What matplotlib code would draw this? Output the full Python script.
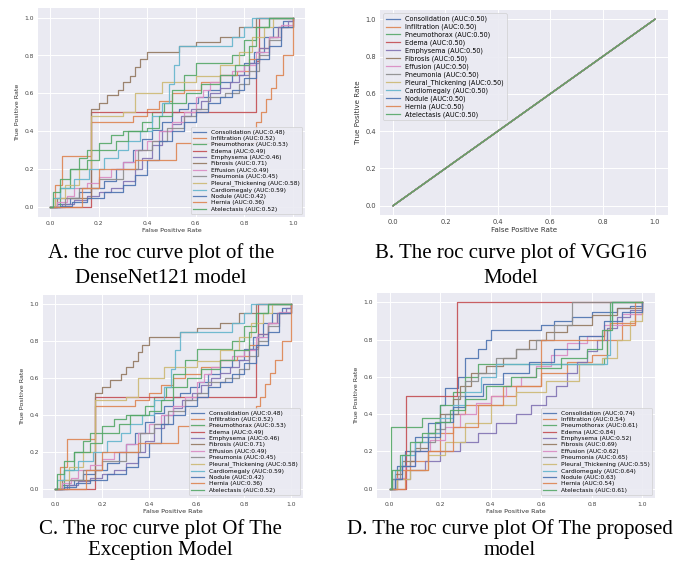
import numpy as np
import matplotlib.pyplot as plt

# class names, in legend order
classes = ['Consolidation', 'Infiltration', 'Pneumothorax', 'Edema', 'Emphysema',
           'Fibrosis', 'Effusion', 'Pneumonia', 'Pleural_Thickening', 'Cardiomegaly',
           'Nodule', 'Hernia', 'Atelectasis']

# AUC values printed in each legend
auc_densenet = [0.48, 0.52, 0.53, 0.49, 0.46, 0.71, 0.49, 0.45, 0.58, 0.59, 0.42, 0.36, 0.52]
auc_vgg16 = [0.50] * 13
auc_exception = [0.48, 0.52, 0.53, 0.49, 0.46, 0.71, 0.49, 0.45, 0.58, 0.59, 0.42, 0.36, 0.52]
auc_proposed = [0.74, 0.54, 0.61, 0.84, 0.52, 0.69, 0.62, 0.65, 0.55, 0.64, 0.63, 0.54, 0.61]

dn_consolidation_fpr = [0, 0.03, 0.08, 0.12, 0.17, 0.22, 0.27, 0.3, 0.34, 0.38, 0.42, 0.46, 0.5, 0.53, 0.57, 0.61, 0.65, 0.7, 0.75, 0.8, 0.84, 0.88, 0.92, 0.96, 1.0]
dn_consolidation_tpr = [0, 0.02, 0.05, 0.08, 0.1, 0.14, 0.2, 0.24, 0.3, 0.36, 0.41, 0.45, 0.5, 0.52, 0.55, 0.58, 0.62, 0.66, 0.7, 0.76, 0.82, 0.9, 0.95, 0.98, 1.0]
dn_infiltration_fpr = [0, 0.02, 0.05, 0.17, 0.34, 0.4, 0.45, 0.5, 0.55, 0.62, 0.7, 0.77, 0.82, 0.86, 0.9, 0.94, 1.0]
dn_infiltration_tpr = [0, 0.12, 0.27, 0.45, 0.48, 0.52, 0.56, 0.6, 0.62, 0.66, 0.7, 0.72, 0.78, 0.84, 0.9, 0.95, 1.0]
dn_pneumothorax_fpr = [0, 0.04, 0.08, 0.12, 0.15, 0.2, 0.25, 0.3, 0.38, 0.42, 0.47, 0.5, 0.55, 0.6, 0.75, 0.8, 0.85, 0.9, 1.0]
dn_pneumothorax_tpr = [0, 0.1, 0.2, 0.26, 0.3, 0.34, 0.38, 0.4, 0.45, 0.5, 0.55, 0.62, 0.7, 0.76, 0.8, 0.88, 0.95, 1.0, 1.0]
dn_edema_fpr = [0, 0.17, 0.85, 0.86, 1.0]
dn_edema_tpr = [0, 0.5, 0.77, 1.0, 1.0]
dn_emphysema_fpr = [0, 0.05, 0.1, 0.15, 0.2, 0.25, 0.3, 0.35, 0.38, 0.42, 0.46, 0.5, 0.54, 0.58, 0.62, 0.66, 0.7, 0.74, 0.78, 0.82, 0.86, 0.9, 0.94, 0.98, 1.0]
dn_emphysema_tpr = [0, 0.02, 0.04, 0.06, 0.08, 0.1, 0.14, 0.2, 0.26, 0.33, 0.4, 0.44, 0.48, 0.52, 0.56, 0.6, 0.63, 0.66, 0.7, 0.76, 0.84, 0.9, 0.95, 0.98, 1.0]
dn_fibrosis_fpr = [0, 0.03, 0.17, 0.2, 0.235, 0.28, 0.3, 0.33, 0.35, 0.37, 0.4, 0.53, 0.6, 0.7, 0.78, 0.85, 1.0]
dn_fibrosis_tpr = [0, 0.05, 0.52, 0.55, 0.59, 0.62, 0.66, 0.69, 0.74, 0.78, 0.82, 0.85, 0.87, 0.9, 0.95, 1.0, 1.0]
dn_effusion_fpr = [0, 0.03, 0.07, 0.1, 0.15, 0.2, 0.25, 0.3, 0.35, 0.4, 0.45, 0.5, 0.55, 0.6, 0.63, 0.66, 0.7, 0.75, 0.8, 0.85, 0.9, 0.95, 1.0]
dn_effusion_tpr = [0, 0.03, 0.06, 0.1, 0.13, 0.16, 0.2, 0.24, 0.3, 0.35, 0.4, 0.45, 0.5, 0.58, 0.62, 0.66, 0.7, 0.72, 0.75, 0.82, 0.9, 0.96, 1.0]
dn_pneumonia_fpr = [0, 0.06, 0.12, 0.2, 0.3, 0.36, 0.42, 0.48, 0.55, 0.6, 0.65, 0.72, 0.78, 0.82, 0.86, 0.9, 0.95, 1.0]
dn_pneumonia_tpr = [0, 0.05, 0.1, 0.15, 0.2, 0.3, 0.35, 0.42, 0.48, 0.52, 0.58, 0.6, 0.65, 0.72, 0.8, 0.88, 0.95, 1.0]
dn_pleural_fpr = [0, 0.02, 0.06, 0.12, 0.17, 0.3, 0.35, 0.46, 0.6, 0.7, 0.78, 0.83, 0.88, 0.92, 1.0]
dn_pleural_tpr = [0, 0.05, 0.12, 0.2, 0.48, 0.5, 0.6, 0.66, 0.69, 0.75, 0.82, 0.9, 0.95, 1.0, 1.0]
dn_cardio_fpr = [0, 0.01, 0.04, 0.1, 0.16, 0.22, 0.28, 0.32, 0.37, 0.42, 0.46, 0.49, 0.51, 0.53, 0.75, 0.8, 0.83, 1.0]
dn_cardio_tpr = [0, 0.05, 0.1, 0.15, 0.2, 0.26, 0.3, 0.35, 0.4, 0.48, 0.55, 0.65, 0.75, 0.85, 0.9, 0.95, 1.0, 1.0]
dn_nodule_fpr = [0, 0.04, 0.09, 0.15, 0.22, 0.3, 0.35, 0.4, 0.45, 0.5, 0.55, 0.6, 0.65, 0.7, 0.75, 0.8, 0.85, 0.9, 0.95, 1.0]
dn_nodule_tpr = [0, 0.01, 0.03, 0.05, 0.08, 0.12, 0.17, 0.25, 0.35, 0.4, 0.45, 0.5, 0.55, 0.58, 0.62, 0.68, 0.78, 0.85, 0.95, 1.0]
dn_hernia_fpr = [0, 0.13, 0.2, 0.35, 0.52, 0.85, 0.87, 0.89, 0.91, 0.93, 0.96, 1.0, 1.0]
dn_hernia_tpr = [0, 0.1, 0.2, 0.25, 0.34, 0.45, 0.5, 0.57, 0.63, 0.7, 0.8, 0.93, 1.0]
dn_atelectasis_fpr = [0, 0.01, 0.04, 0.08, 0.15, 0.2, 0.27, 0.32, 0.4, 0.45, 0.5, 0.56, 0.62, 0.7, 0.76, 0.82, 0.85, 0.9, 1.0]
dn_atelectasis_tpr = [0, 0.08, 0.15, 0.2, 0.25, 0.3, 0.35, 0.4, 0.42, 0.48, 0.55, 0.6, 0.65, 0.7, 0.75, 0.85, 0.95, 1.0, 1.0]

# ROC corners
pr_consolidation_fpr = [0, 0.01, 0.03, 0.06, 0.1, 0.15, 0.2, 0.22, 0.27, 0.3, 0.35, 0.38, 0.4, 0.6, 0.65, 0.72, 0.8, 0.9, 0.95, 1.0]
pr_consolidation_tpr = [0, 0.05, 0.12, 0.2, 0.28, 0.35, 0.45, 0.54, 0.6, 0.7, 0.75, 0.8, 0.85, 0.88, 0.9, 0.92, 0.95, 0.97, 0.98, 1.0]
pr_infiltration_fpr = [0, 0.03, 0.08, 0.15, 0.2, 0.25, 0.3, 0.4, 0.5, 0.6, 0.7, 0.8, 0.86, 0.92, 0.97, 1.0]
pr_infiltration_tpr = [0, 0.1, 0.15, 0.2, 0.3, 0.4, 0.45, 0.5, 0.55, 0.62, 0.68, 0.72, 0.8, 0.88, 0.94, 1.0]
pr_pneumothorax_fpr = [0, 0.005, 0.13, 0.2, 0.25, 0.3, 0.35, 0.85, 0.86, 0.87, 1.0]
pr_pneumothorax_tpr = [0, 0.33, 0.38, 0.45, 0.52, 0.6, 0.67, 0.7, 0.85, 1.0, 1.0]
pr_edema_fpr = [0, 0.065, 0.265, 1.0]
pr_edema_tpr = [0, 0.5, 1.0, 1.0]
pr_emphysema_fpr = [0, 0.03, 0.08, 0.14, 0.2, 0.28, 0.35, 0.42, 0.5, 0.56, 0.62, 0.66, 0.7, 0.74, 0.78, 0.82, 0.86, 0.9, 0.95, 1.0]
pr_emphysema_tpr = [0, 0.05, 0.1, 0.15, 0.2, 0.25, 0.3, 0.35, 0.4, 0.45, 0.5, 0.55, 0.62, 0.68, 0.74, 0.8, 0.86, 0.92, 0.96, 1.0]
pr_fibrosis_fpr = [0, 0.02, 0.05, 0.1, 0.15, 0.2, 0.25, 0.28, 0.32, 0.38, 0.45, 0.5, 0.55, 0.62, 0.7, 0.8, 0.9, 1.0]
pr_fibrosis_tpr = [0, 0.08, 0.15, 0.22, 0.3, 0.4, 0.48, 0.55, 0.62, 0.66, 0.7, 0.75, 0.8, 0.84, 0.88, 0.93, 0.97, 1.0]
pr_effusion_fpr = [0, 0.02, 0.06, 0.1, 0.16, 0.22, 0.28, 0.34, 0.4, 0.46, 0.52, 0.58, 0.64, 0.7, 0.78, 0.85, 0.92, 1.0]
pr_effusion_tpr = [0, 0.06, 0.12, 0.2, 0.26, 0.33, 0.4, 0.46, 0.5, 0.55, 0.6, 0.66, 0.72, 0.78, 0.82, 0.88, 0.94, 1.0]
pr_pneumonia_fpr = [0, 0.01, 0.04, 0.08, 0.12, 0.18, 0.22, 0.27, 0.3, 0.35, 0.42, 0.5, 0.58, 0.65, 0.72, 1.0]
pr_pneumonia_tpr = [0, 0.05, 0.12, 0.2, 0.25, 0.32, 0.4, 0.5, 0.58, 0.62, 0.7, 0.75, 0.8, 0.88, 1.0, 1.0]
pr_pleural_fpr = [0, 0.03, 0.08, 0.15, 0.22, 0.3, 0.4, 0.5, 0.62, 0.75, 0.84, 0.9, 0.95, 1.0]
pr_pleural_tpr = [0, 0.05, 0.1, 0.18, 0.25, 0.35, 0.45, 0.52, 0.58, 0.67, 0.7, 0.8, 0.9, 1.0]
pr_cardio_fpr = [0, 0.02, 0.05, 0.1, 0.15, 0.2, 0.25, 0.3, 0.36, 0.42, 0.86, 0.87, 0.88, 1.0]
pr_cardio_tpr = [0, 0.1, 0.18, 0.25, 0.3, 0.38, 0.45, 0.52, 0.6, 0.67, 0.72, 0.9, 1.0, 1.0]
pr_nodule_fpr = [0, 0.02, 0.05, 0.1, 0.15, 0.2, 0.25, 0.3, 0.37, 0.45, 0.55, 0.65, 0.75, 0.85, 0.92, 1.0]
pr_nodule_tpr = [0, 0.05, 0.12, 0.2, 0.28, 0.36, 0.44, 0.5, 0.56, 0.62, 0.68, 0.75, 0.82, 0.9, 0.95, 1.0]
pr_hernia_fpr = [0, 0.06, 0.15, 0.25, 0.35, 0.45, 0.6, 0.85, 0.87, 0.97, 1.0]
pr_hernia_tpr = [0, 0.1, 0.2, 0.33, 0.45, 0.55, 0.8, 0.85, 0.89, 1.0, 1.0]
pr_atelectasis_fpr = [0, 0.01, 0.04, 0.08, 0.13, 0.18, 0.24, 0.3, 0.38, 0.48, 0.58, 0.68, 0.78, 0.84, 0.88, 1.0]
pr_atelectasis_tpr = [0, 0.1, 0.18, 0.25, 0.3, 0.36, 0.42, 0.48, 0.55, 0.6, 0.65, 0.7, 0.75, 0.85, 1.0, 1.0]

# VGG16: every class sits on the chance diagonal
vgg_fpr = [0, 1.0]
vgg_tpr = [0, 1.0]

densenet_curves = [
    (dn_consolidation_fpr, dn_consolidation_tpr), (dn_infiltration_fpr, dn_infiltration_tpr),
    (dn_pneumothorax_fpr, dn_pneumothorax_tpr), (dn_edema_fpr, dn_edema_tpr),
    (dn_emphysema_fpr, dn_emphysema_tpr), (dn_fibrosis_fpr, dn_fibrosis_tpr),
    (dn_effusion_fpr, dn_effusion_tpr), (dn_pneumonia_fpr, dn_pneumonia_tpr),
    (dn_pleural_fpr, dn_pleural_tpr), (dn_cardio_fpr, dn_cardio_tpr),
    (dn_nodule_fpr, dn_nodule_tpr), (dn_hernia_fpr, dn_hernia_tpr),
    (dn_atelectasis_fpr, dn_atelectasis_tpr)]
proposed_curves = [
    (pr_consolidation_fpr, pr_consolidation_tpr), (pr_infiltration_fpr, pr_infiltration_tpr),
    (pr_pneumothorax_fpr, pr_pneumothorax_tpr), (pr_edema_fpr, pr_edema_tpr),
    (pr_emphysema_fpr, pr_emphysema_tpr), (pr_fibrosis_fpr, pr_fibrosis_tpr),
    (pr_effusion_fpr, pr_effusion_tpr), (pr_pneumonia_fpr, pr_pneumonia_tpr),
    (pr_pleural_fpr, pr_pleural_tpr), (pr_cardio_fpr, pr_cardio_tpr),
    (pr_nodule_fpr, pr_nodule_tpr), (pr_hernia_fpr, pr_hernia_tpr),
    (pr_atelectasis_fpr, pr_atelectasis_tpr)]
vgg_curves = [(vgg_fpr, vgg_tpr)] * 13

# seaborn "deep" palette
colors = ['#4C72B0', '#DD8452', '#55A868', '#C44E52', '#8172B3',
          '#937860', '#DA8BC3', '#8C8C8C', '#CCB974', '#64B5CD']


def draw_roc(ax, curves, aucs, loc, fs=4.3, steps=True):
    """One ROC panel in seaborn darkgrid look."""
    ax.set_facecolor('#EAEAF2')
    for s in ax.spines.values():
        s.set_visible(False)
    ax.grid(True, color='white', linewidth=0.7)
    ax.set_axisbelow(True)
    ds = 'steps-post' if steps else 'default'
    for i, (fpr, tpr) in enumerate(curves):
        ax.plot(fpr, tpr, drawstyle=ds, color=colors[i % 10], lw=0.9, alpha=0.9,
                label=f'{classes[i]} (AUC:{aucs[i]:.2f})')
    ax.set_xticks(np.arange(0, 1.01, 0.2))
    ax.set_yticks(np.arange(0, 1.01, 0.2))
    ax.tick_params(length=0, labelsize=fs, labelcolor='#444444', pad=3)
    ax.set_xlabel('False Positive Rate', fontsize=fs + 0.3, color='#333333', labelpad=1)
    ax.set_ylabel('True Positive Rate', fontsize=fs + 0.3, color='#333333', labelpad=3)
    leg = ax.legend(loc=loc, fontsize=fs - 0.1, labelspacing=0.22, handlelength=2.2,
                    borderpad=0.4, facecolor='#EAEAF2', edgecolor='#cccccc', framealpha=0.9)
    leg.get_frame().set_linewidth(0.5)


fig = plt.figure(figsize=(6.8, 5.62), dpi=100)

ax_a = fig.add_axes([38 / 680, 1 - 217 / 562, 267 / 680, 209 / 562])
draw_roc(ax_a, densenet_curves, auc_densenet, 'lower right')

ax_b = fig.add_axes([380 / 680, 1 - 215 / 562, 288 / 680, 205 / 562])
draw_roc(ax_b, vgg_curves, auc_vgg16, 'upper left', fs=4.8, steps=False)

ax_c = fig.add_axes([43 / 680, 1 - 498 / 562, 260 / 680, 203 / 562])
draw_roc(ax_c, densenet_curves, auc_exception, 'lower right')

ax_d = fig.add_axes([377 / 680, 1 - 498 / 562, 278 / 680, 205 / 562])
draw_roc(ax_d, proposed_curves, auc_proposed, 'lower right')

# captions under each panel (pixel baselines converted to figure fraction)
cap = dict(family='Liberation Serif', fontsize=15, ha='center', va='baseline')
fig.text(161 / 680, 1 - 258 / 562, 'A. the roc curve plot of the', **cap)
fig.text(161 / 680, 1 - 283 / 562, 'DenseNet121 model', **cap)
fig.text(511 / 680, 1 - 258 / 562, 'B. The roc curve plot of VGG16', **cap)
fig.text(511 / 680, 1 - 283 / 562, 'Model', **cap)
fig.text(160 / 680, 1 - 534 / 562, 'C. The roc curve plot Of The', **cap)
fig.text(160 / 680, 1 - 555 / 562, 'Exception Model', **cap)
fig.text(510 / 680, 1 - 534 / 562, 'D. The roc curve plot Of The proposed', **cap)
fig.text(510 / 680, 1 - 555 / 562, 'model', **cap)

fig.savefig('out.png', dpi=100, facecolor='white')
